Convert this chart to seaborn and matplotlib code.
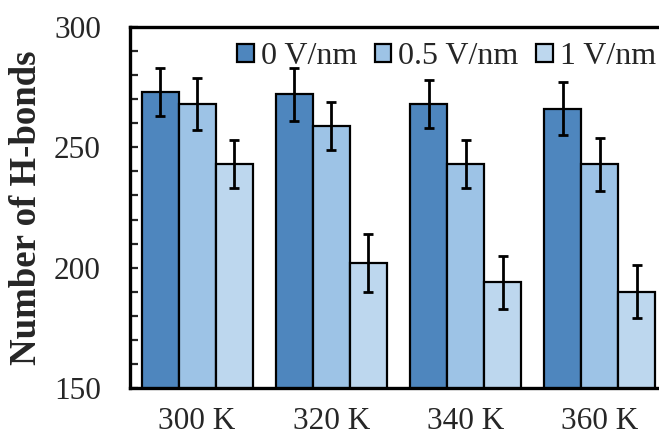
import matplotlib
matplotlib.use("Agg")
import matplotlib.pyplot as plt
from matplotlib.ticker import MultipleLocator
import seaborn as sns
import pandas as pd

temperatures = ["300 K", "320 K", "340 K", "360 K"]
fields = ["0 V/nm", "0.5 V/nm", "1 V/nm"]
hbonds_0 = [273, 272, 268, 266]
hbonds_05 = [268, 259, 243, 243]
hbonds_1 = [243, 202, 194, 190]
err_0 = [10, 11, 10, 11]
err_05 = [11, 10, 10, 11]
err_1 = [10, 12, 11, 11]
colors = ["#4E86BE", "#9DC3E6", "#BDD7EE"]

rows = []
for field, vals, errs in zip(fields, [hbonds_0, hbonds_05, hbonds_1], [err_0, err_05, err_1]):
    for t, v, e in zip(temperatures, vals, errs):
        rows.append({"Temperature": t, "Field": field, "Hbonds": v, "Err": e})
df = pd.DataFrame(rows)

sns.set_style("ticks")
plt.rcParams["font.family"] = ["Liberation Serif", "DejaVu Serif"]

fig = plt.figure(figsize=(6.59, 4.37), dpi=100)
ax = fig.add_axes([130 / 659, 1 - 388 / 437, 537 / 659, 361 / 437])

sns.barplot(data=df, x="Temperature", y="Hbonds", hue="Field",
            order=temperatures, hue_order=fields, palette=colors,
            width=0.826, errorbar=None, edgecolor="black", linewidth=1.6,
            saturation=1, ax=ax)

# error bars at the centre of each bar
for container, field in zip(ax.containers, fields):
    sub = df[df["Field"] == field].set_index("Temperature").loc[temperatures]
    xs = [p.get_x() + p.get_width() / 2 for p in container.patches]
    ax.errorbar(xs, sub["Hbonds"].values, yerr=sub["Err"].values, fmt="none",
                ecolor="black", elinewidth=2, capsize=3.4, capthick=2, zorder=5)

ax.set_ylim(150, 300)
ax.set_xlim(-0.5, 3.5)
ax.yaxis.set_major_locator(MultipleLocator(50))
ax.yaxis.set_minor_locator(MultipleLocator(10))
ax.tick_params(axis="y", which="both", direction="in", length=5.5, width=1.6,
               labelsize=22.5, pad=21)
ax.tick_params(axis="x", which="both", length=0, labelsize=22.5, pad=14)
ax.set_xlabel("")
ax.set_ylabel("Number of H-bonds", fontsize=26.5, fontweight="bold", labelpad=7)

for side in ["left", "top", "bottom"]:
    ax.spines[side].set_linewidth(2.4)
    ax.spines[side].set_color("black")
ax.spines["right"].set_visible(False)

leg = ax.legend(loc="upper right", bbox_to_anchor=(1.012, 1.006), ncol=3,
                frameon=False, fontsize=23, handlelength=0.52, handleheight=0.52,
                handletextpad=0.22, columnspacing=0.55, borderaxespad=0.15)
for h in leg.legend_handles:
    h.set_edgecolor("black")
    h.set_linewidth(1.6)

fig.savefig("out.png", dpi=100)
